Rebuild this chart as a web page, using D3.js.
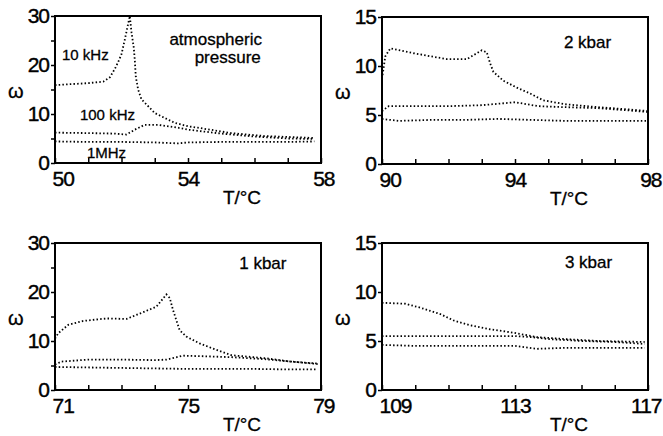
<!DOCTYPE html>
<html>
<head>
<meta charset="utf-8">
<script src="https://cdn.jsdelivr.net/npm/d3@7"></script>
<style>
  body { margin: 0; background: #fff; }
  svg { display: block; }
  .tick text { font-family: "Liberation Sans", Arial, sans-serif; }
</style>
</head>
<body>
<svg id="chart" width="663" height="436"></svg>
<script>
// atmospheric pressure  (T/°C, ω)
const atm10kHz = [[50,15.9],[50.5,16.1],[51,16.3],[51.45,16.6],[51.65,17.5],[51.8,19.2],[51.9,20.6],[52.0,22.2],[52.1,25.2],[52.2,28.4],[52.25,30],[52.3,26.7],[52.37,23.5],[52.4,21],[52.43,17.6],[52.5,15],[52.6,13],[52.8,11.6],[53.0,10.2],[53.3,9.2],[53.6,8.2],[54,7.5],[54.3,7.2],[55.3,6.1],[56.3,5.5],[57.8,5.1]];
const atm100kHz = [[50,6.2],[51,6.1],[51.8,6.0],[52.15,5.8],[52.4,6.8],[52.7,7.8],[53.1,7.8],[53.7,7.2],[54,6.8],[55,6.0],[56,5.4],[57,5.0],[57.8,4.9]];
const atm1MHz = [[50,4.4],[51,4.3],[52,4.3],[53,4.2],[53.7,4.0],[54,4.2],[55,4.3],[56,4.3],[57,4.3],[57.8,4.4]];

// 2 kbar
const k2_10kHz = [[90,8.7],[90.1,11.0],[90.25,11.8],[90.95,11.3],[91.45,11.0],[91.95,10.7],[92.55,10.7],[92.75,11.1],[93.0,11.6],[93.15,11.4],[93.25,10.3],[93.35,9.4],[93.65,8.5],[94.05,7.8],[94.45,7.2],[94.85,6.5],[95.5,6.1],[96.5,5.8],[97.3,5.6],[98,5.4]];
const k2_100kHz = [[90,5.4],[90.2,5.9],[91,5.9],[92,5.9],[93,6.0],[94,6.3],[94.7,5.9],[95.5,5.8],[96.5,5.7],[97.3,5.5],[98,5.3]];
const k2_1MHz = [[90,4.6],[90.5,4.4],[91.5,4.5],[92.5,4.5],[93.5,4.6],[94.5,4.5],[95.5,4.4],[96.5,4.4],[98,4.4]];

// 1 kbar
const k1_10kHz = [[71,10.5],[71.1,11.6],[71.4,13.3],[71.85,14.1],[72.55,14.6],[73.15,14.5],[73.55,15.6],[74.05,17.0],[74.35,19.5],[74.45,18.8],[74.55,16.3],[74.75,12.2],[74.95,10.9],[75.35,9.5],[75.85,8.2],[76.3,7.1],[77.3,6.5],[78.1,5.8],[78.9,5.4]];
const k1_100kHz = [[71,5.2],[71.2,5.8],[72,6.2],[73,6.2],[74,6.1],[74.35,6.2],[74.85,7.0],[75.4,6.9],[76.3,6.7],[77.3,6.3],[78.1,5.8],[78.9,5.3]];
const k1_1MHz = [[71,4.7],[72,4.6],[73,4.5],[74,4.4],[75,4.3],[76,4.3],[77,4.3],[78,4.2],[78.9,4.2]];

// 3 kbar
const k3_10kHz = [[109,8.9],[109.7,8.8],[110.15,8.4],[110.75,7.75],[111.15,7.1],[111.65,6.6],[112.25,6.2],[112.95,5.85],[113.65,5.4],[114.5,5.2],[115.5,5.0],[116.9,4.9]];
const k3_100kHz = [[109,5.5],[110,5.5],[111,5.5],[112,5.5],[113,5.5],[113.5,5.4],[114,5.2],[115,5.0],[116,4.9],[116.9,4.7]];
const k3_1MHz = [[109,4.6],[110,4.5],[111,4.5],[112,4.5],[113,4.5],[113.65,4.2],[114.5,4.3],[115.5,4.3],[116.9,4.3]];

// axis ranges / tick labels
const xDomains = [[50, 58], [90, 98], [71, 79], [109, 117]];
const yMax = [30, 15, 30, 15];
const xLabels = [[50, 54, 58], [90, 94, 98], [71, 75, 79], [109, 113, 117]];
const yLabels30 = [0, 10, 20, 30];
const yLabels15 = [0, 5, 10, 15];

const panels = [
  { left: 55,  top: 16,  series: [atm10kHz, atm100kHz, atm1MHz],
    notes: [["10 kHz", 50.21, 21.0, 15], ["100 kHz", 50.75, 8.8, 15], ["1MHz", 50.96, 1.0, 15],
            ["atmospheric", 53.44, 24.1, 17], ["pressure", 54.2, 20.4, 17]] },
  { left: 382, top: 17,  series: [k2_10kHz, k2_100kHz, k2_1MHz], notes: [["2 kbar", 95.47, 11.8, 17]] },
  { left: 55,  top: 243, series: [k1_10kHz, k1_100kHz, k1_1MHz], notes: [["1 kbar", 76.54, 24.7, 17]] },
  { left: 382, top: 243, series: [k3_10kHz, k3_100kHz, k3_1MHz], notes: [["3 kbar", 114.5, 12.4, 17]] }
];

const chW = 266, chH = 147;
const svg = d3.select('#chart');

panels.forEach((p, i) => {
  const g = svg.append('g').attr('transform', 'translate(' + p.left + ',' + p.top + ')');

  const x = d3.scaleLinear().domain(xDomains[i]).range([0, chW]);
  const y = d3.scaleLinear().domain([0, yMax[i]]).range([chH, 0]);

  const clipId = 'clip' + i;
  g.append('clipPath').attr('id', clipId)
    .append('rect').attr('width', chW).attr('height', chH);

  // x 축 - tick은 안쪽으로
  const nx = xDomains[i][1] - xDomains[i][0];
  const xAxis = d3.axisBottom(x)
    .tickValues(d3.range(xDomains[i][0], xDomains[i][1] + 1))
    .tickSize(-5)
    .tickPadding(8)
    .tickFormat(d => xLabels[i].includes(d) ? d : '');
  const gx = g.append('g')
    .attr('transform', 'translate(0,' + chH + ')')
    .call(xAxis);
  gx.selectAll('.tick text')
    .attr('font-size', 21)
    .attr('letter-spacing', -1)
    .attr('dy', '0.71em')
    .attr('text-anchor', (d, k) => k === 0 ? 'start' : (k === nx ? 'end' : 'middle'))
    .attr('dx', (d, k) => k === 0 ? -3 : (k === nx ? 13 : 0));

  // y 축 - tick은 바깥으로
  const yLab = yMax[i] === 30 ? yLabels30 : yLabels15;
  const yAxis = d3.axisLeft(y)
    .tickValues(d3.range(0, yMax[i] + 1, 5))
    .tickSize(4)
    .tickPadding(2)
    .tickFormat(d => yLab.includes(d) ? d : '');
  const gy = g.append('g').call(yAxis);
  gy.selectAll('.tick text')
    .attr('font-size', 21)
    .attr('letter-spacing', -1);

  svg.selectAll('.domain').remove();
  g.selectAll('.tick line').attr('stroke', '#000').attr('stroke-width', 1.5);
  g.selectAll('.tick text')
    .attr('fill', '#000')
    .attr('stroke', '#000')
    .attr('stroke-width', 0.4);

  // 프레임
  g.append('rect')
    .attr('width', chW).attr('height', chH)
    .attr('fill', 'none')
    .attr('stroke', '#000')
    .attr('stroke-width', 2);

  // 데이터 점선
  const line = d3.line()
    .x(d => x(d[0]))
    .y(d => y(d[1]));

  g.append('g').attr('clip-path', 'url(#' + clipId + ')')
    .selectAll('path')
    .data(p.series)
    .enter().append('path')
    .attr('d', line)
    .attr('fill', 'none')
    .attr('stroke', '#000')
    .attr('stroke-width', 1.8)
    .attr('stroke-dasharray', '1.5,2.2');

  // 주석
  g.selectAll('text.note')
    .data(p.notes)
    .enter().append('text')
    .attr('class', 'note')
    .attr('x', d => x(d[1]))
    .attr('y', d => y(d[2]))
    .attr('font-family', 'Liberation Sans, Arial, sans-serif')
    .attr('font-size', d => d[3])
    .attr('fill', '#000')
    .attr('stroke', '#000')
    .attr('stroke-width', 0.3)
    .text(d => d[0]);

  // 축 제목
  g.append('text')
    .attr('x', 187)
    .attr('y', chH + 41)
    .attr('text-anchor', 'middle')
    .attr('font-family', 'Liberation Sans, Arial, sans-serif')
    .attr('font-size', 19)
    .attr('stroke', '#000')
    .attr('stroke-width', 0.3)
    .text('T/°C');

  g.append('text')
    .attr('x', -47)
    .attr('y', chH / 2 + 8)
    .attr('font-family', 'Liberation Sans, Arial, sans-serif')
    .attr('font-size', 20)
    .attr('stroke', '#000')
    .attr('stroke-width', 0.3)
    .text('ω');
});
</script>
</body>
</html>
